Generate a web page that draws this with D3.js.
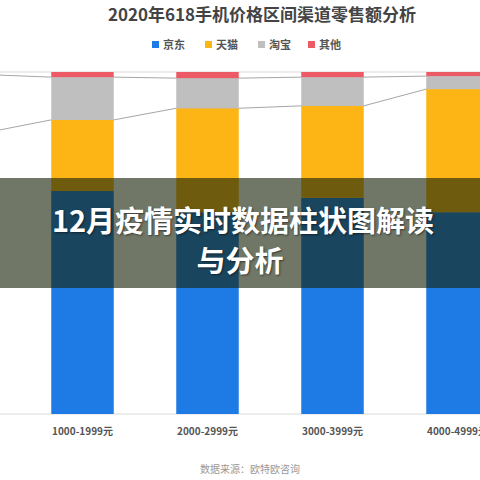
<!DOCTYPE html>
<html><head><meta charset="utf-8">
<script src="https://cdn.jsdelivr.net/npm/d3@7"></script>
<style>body{margin:0;background:#fff}svg{display:block}</style>
</head><body>
<svg id="chart" width="480" height="480"></svg>
<script>
const categories = ["1000-1999元", "2000-2999元", "3000-3999元", "4000-4999元"];
const seriesNames = ["京东", "天猫", "淘宝", "其他"];
const jd = [65.2, 59.0, 63.2, 59.0];
const tmall = [20.8, 30.4, 26.9, 36.0];
const taobao = [12.5, 8.8, 8.4, 3.8];
const other = [1.5, 1.8, 1.5, 1.2];
const colors = ["#1e7be6", "#fdb515", "#bfbfbf", "#ec5a66"];

const svg = d3.select("#chart");
const font = "'Noto Sans CJK SC', sans-serif";

const rows = categories.map((c, i) => ({cat: c, "京东": jd[i], "天猫": tmall[i], "淘宝": taobao[i], "其他": other[i]}));
const stacked = d3.stack().keys(seriesNames)(rows);

const x = d3.scaleBand().domain(categories).range([20, 520]).paddingInner(0.5).paddingOuter(0.25);
const y = d3.scaleLinear().domain([0, 100]).range([414, 72]);

// top gridline and baseline
svg.append("line").attr("x1", 0).attr("x2", 480).attr("y1", y(100)).attr("y2", y(100)).attr("stroke", "#d9d9d9");
svg.append("line").attr("x1", 0).attr("x2", 480).attr("y1", y(0)).attr("y2", y(0)).attr("stroke", "#d9d9d9");

// series lines between bars
const leftOffset = [0, 10, -2];
[1, 2].forEach(k => {
    const layer = stacked[k];
    const pts = [[0, y(layer[0][1]) + leftOffset[k]]];
    layer.forEach((d, i) => {
        pts.push([x(categories[i]), y(d[1])]);
        pts.push([x(categories[i]) + x.bandwidth(), y(d[1])]);
    });
    svg.append("path").attr("d", d3.line()(pts)).attr("fill", "none").attr("stroke", "#a6a6a6").attr("stroke-width", 1);
});

stacked.forEach((layer, k) => {
    svg.append("g").selectAll("rect").data(layer).join("rect")
        .attr("x", d => x(d.data.cat))
        .attr("y", d => y(d[1]))
        .attr("width", x.bandwidth())
        .attr("height", d => y(d[0]) - y(d[1]))
        .attr("fill", colors[k]);
});

// category labels
const xAxis = svg.append("g").attr("transform", `translate(0,${y(0)})`)
    .call(d3.axisBottom(x).tickSize(0).tickPadding(14));
xAxis.select(".domain").remove();
xAxis.selectAll("text").attr("font-family", font).attr("font-size", 10).attr("font-weight", "bold").attr("fill", "#555");

// title
svg.append("text").attr("x", 262).attr("y", 21).attr("text-anchor", "middle")
    .attr("font-family", font).attr("font-size", 17).attr("font-weight", "bold").attr("fill", "#444")
    .text("2020年618手机价格区间渠道零售额分析");

// legend
const legendX = [152, 205, 258, 308];
seriesNames.forEach((n, i) => {
    svg.append("rect").attr("x", legendX[i]).attr("y", 41).attr("width", 7).attr("height", 7).attr("fill", colors[i]);
    svg.append("text").attr("x", legendX[i] + 11).attr("y", 49).attr("font-family", font)
        .attr("font-size", 11).attr("font-weight", "bold").attr("fill", "#555").text(n);
});

// source
svg.append("text").attr("x", 250).attr("y", 473).attr("text-anchor", "middle")
    .attr("font-family", font).attr("font-size", 10).attr("fill", "#999").text("数据来源：欧特欧咨询");

// overlay band
svg.append("rect").attr("x", 0).attr("y", 178).attr("width", 480).attr("height", 110).attr("fill", "rgba(25,35,10,0.62)");
const ov = svg.append("text").attr("text-anchor", "middle").attr("font-family", font)
    .attr("font-size", 29).attr("font-weight", "bold").attr("fill", "#fff")
    .style("text-shadow", "1px 1px 2px rgba(0,0,0,0.5)");
ov.append("tspan").attr("x", 243).attr("y", 232).text("12月疫情实时数据柱状图解读");
ov.append("tspan").attr("x", 240).attr("y", 272).text("与分析");
</script>
</body></html>
